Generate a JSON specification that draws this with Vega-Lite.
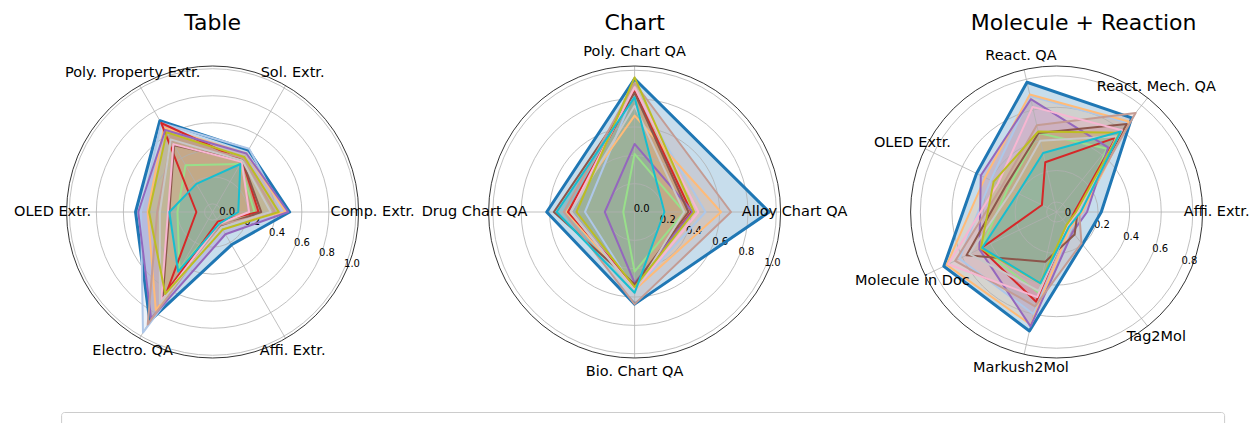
{
  "$schema": "https://vega.github.io/schema/vega-lite/v6.json",
  "autosize": {"type": "pad"},
  "padding": {"left": 13.6, "top": 11, "right": 0, "bottom": 0},
  "bounds": "flush",
  "config": {
    "view": {"stroke": null},
    "font": "DejaVu Sans",
    "concat": {"spacing": 130}
  },
  "datasets": {
    "axes": [
      {"panel": "Table", "axis": "Comp. Extr."}, {"panel": "Table", "axis": "Sol. Extr."}, {"panel": "Table", "axis": "Poly. Property Extr."}, {"panel": "Table", "axis": "OLED Extr."}, {"panel": "Table", "axis": "Electro. QA"}, {"panel": "Table", "axis": "Affi. Extr."},
      {"panel": "Chart", "axis": "Alloy Chart QA"}, {"panel": "Chart", "axis": "Poly. Chart QA"}, {"panel": "Chart", "axis": "Drug Chart QA"}, {"panel": "Chart", "axis": "Bio. Chart QA"},
      {"panel": "Molecule + Reaction", "axis": "Affi. Extr."}, {"panel": "Molecule + Reaction", "axis": "React. Mech. QA"}, {"panel": "Molecule + Reaction", "axis": "React. QA"}, {"panel": "Molecule + Reaction", "axis": "OLED Extr."}, {"panel": "Molecule + Reaction", "axis": "Molecule in Doc"}, {"panel": "Molecule + Reaction", "axis": "Markush2Mol"}, {"panel": "Molecule + Reaction", "axis": "Tag2Mol"}
    ],
    "rings": [
      {"panel": "Table", "r": 0}, {"panel": "Table", "r": 0.2}, {"panel": "Table", "r": 0.4}, {"panel": "Table", "r": 0.6}, {"panel": "Table", "r": 0.8}, {"panel": "Table", "r": 1.0},
      {"panel": "Chart", "r": 0}, {"panel": "Chart", "r": 0.2}, {"panel": "Chart", "r": 0.4}, {"panel": "Chart", "r": 0.6}, {"panel": "Chart", "r": 0.8}, {"panel": "Chart", "r": 1.0},
      {"panel": "Molecule + Reaction", "r": 0}, {"panel": "Molecule + Reaction", "r": 0.2}, {"panel": "Molecule + Reaction", "r": 0.4}, {"panel": "Molecule + Reaction", "r": 0.6}, {"panel": "Molecule + Reaction", "r": 0.8}
    ],
    "scores": [
      {"panel": "Table", "model": "Uni-SMART", "axis": "Comp. Extr.", "value": 0.51}, {"panel": "Table", "model": "Uni-SMART", "axis": "Sol. Extr.", "value": 0.47}, {"panel": "Table", "model": "Uni-SMART", "axis": "Poly. Property Extr.", "value": 0.72}, {"panel": "Table", "model": "Uni-SMART", "axis": "OLED Extr.", "value": 0.51}, {"panel": "Table", "model": "Uni-SMART", "axis": "Electro. QA", "value": 0.87}, {"panel": "Table", "model": "Uni-SMART", "axis": "Affi. Extr.", "value": 0.22},
      {"panel": "Table", "model": "GPT-4o", "axis": "Comp. Extr.", "value": 0.46}, {"panel": "Table", "model": "GPT-4o", "axis": "Sol. Extr.", "value": 0.48}, {"panel": "Table", "model": "GPT-4o", "axis": "Poly. Property Extr.", "value": 0.70}, {"panel": "Table", "model": "GPT-4o", "axis": "OLED Extr.", "value": 0.47}, {"panel": "Table", "model": "GPT-4o", "axis": "Electro. QA", "value": 0.97}, {"panel": "Table", "model": "GPT-4o", "axis": "Affi. Extr.", "value": 0.07},
      {"panel": "Table", "model": "GPT-4", "axis": "Comp. Extr.", "value": 0.48}, {"panel": "Table", "model": "GPT-4", "axis": "Sol. Extr.", "value": 0.44}, {"panel": "Table", "model": "GPT-4", "axis": "Poly. Property Extr.", "value": 0.66}, {"panel": "Table", "model": "GPT-4", "axis": "OLED Extr.", "value": 0.42}, {"panel": "Table", "model": "GPT-4", "axis": "Electro. QA", "value": 0.78}, {"panel": "Table", "model": "GPT-4", "axis": "Affi. Extr.", "value": 0.05},
      {"panel": "Table", "model": "GPT-3.5", "axis": "Comp. Extr.", "value": 0.25}, {"panel": "Table", "model": "GPT-3.5", "axis": "Sol. Extr.", "value": 0.35}, {"panel": "Table", "model": "GPT-3.5", "axis": "Poly. Property Extr.", "value": 0.34}, {"panel": "Table", "model": "GPT-3.5", "axis": "OLED Extr.", "value": 0.20}, {"panel": "Table", "model": "GPT-3.5", "axis": "Electro. QA", "value": 0.43}, {"panel": "Table", "model": "GPT-3.5", "axis": "Affi. Extr.", "value": 0.03},
      {"panel": "Table", "model": "Moonshot", "axis": "Comp. Extr.", "value": 0.28}, {"panel": "Table", "model": "Moonshot", "axis": "Sol. Extr.", "value": 0.38}, {"panel": "Table", "model": "Moonshot", "axis": "Poly. Property Extr.", "value": 0.70}, {"panel": "Table", "model": "Moonshot", "axis": "OLED Extr.", "value": 0.06}, {"panel": "Table", "model": "Moonshot", "axis": "Electro. QA", "value": 0.61}, {"panel": "Table", "model": "Moonshot", "axis": "Affi. Extr.", "value": 0.02},
      {"panel": "Table", "model": "Claude3", "axis": "Comp. Extr.", "value": 0.50}, {"panel": "Table", "model": "Claude3", "axis": "Sol. Extr.", "value": 0.44}, {"panel": "Table", "model": "Claude3", "axis": "Poly. Property Extr.", "value": 0.64}, {"panel": "Table", "model": "Claude3", "axis": "OLED Extr.", "value": 0.49}, {"panel": "Table", "model": "Claude3", "axis": "Electro. QA", "value": 0.85}, {"panel": "Table", "model": "Claude3", "axis": "Affi. Extr.", "value": 0.13},
      {"panel": "Table", "model": "Doubao", "axis": "Comp. Extr.", "value": 0.30}, {"panel": "Table", "model": "Doubao", "axis": "Sol. Extr.", "value": 0.38}, {"panel": "Table", "model": "Doubao", "axis": "Poly. Property Extr.", "value": 0.51}, {"panel": "Table", "model": "Doubao", "axis": "OLED Extr.", "value": 0.26}, {"panel": "Table", "model": "Doubao", "axis": "Electro. QA", "value": 0.68}, {"panel": "Table", "model": "Doubao", "axis": "Affi. Extr.", "value": 0.06},
      {"panel": "Table", "model": "Gemini", "axis": "Comp. Extr.", "value": 0.40}, {"panel": "Table", "model": "Gemini", "axis": "Sol. Extr.", "value": 0.40}, {"panel": "Table", "model": "Gemini", "axis": "Poly. Property Extr.", "value": 0.55}, {"panel": "Table", "model": "Gemini", "axis": "OLED Extr.", "value": 0.35}, {"panel": "Table", "model": "Gemini", "axis": "Electro. QA", "value": 0.90}, {"panel": "Table", "model": "Gemini", "axis": "Affi. Extr.", "value": 0.05},
      {"panel": "Table", "model": "Llama3", "axis": "Comp. Extr.", "value": 0.21}, {"panel": "Table", "model": "Llama3", "axis": "Sol. Extr.", "value": 0.37}, {"panel": "Table", "model": "Llama3", "axis": "Poly. Property Extr.", "value": 0.52}, {"panel": "Table", "model": "Llama3", "axis": "OLED Extr.", "value": 0.27}, {"panel": "Table", "model": "Llama3", "axis": "Electro. QA", "value": 0.70}, {"panel": "Table", "model": "Llama3", "axis": "Affi. Extr.", "value": 0.04},
      {"panel": "Table", "model": "DeepSeek", "axis": "Comp. Extr.", "value": 0.37}, {"panel": "Table", "model": "DeepSeek", "axis": "Sol. Extr.", "value": 0.38}, {"panel": "Table", "model": "DeepSeek", "axis": "Poly. Property Extr.", "value": 0.56}, {"panel": "Table", "model": "DeepSeek", "axis": "OLED Extr.", "value": 0.33}, {"panel": "Table", "model": "DeepSeek", "axis": "Electro. QA", "value": 0.72}, {"panel": "Table", "model": "DeepSeek", "axis": "Affi. Extr.", "value": 0.07},
      {"panel": "Table", "model": "Qwen2", "axis": "Comp. Extr.", "value": 0.43}, {"panel": "Table", "model": "Qwen2", "axis": "Sol. Extr.", "value": 0.41}, {"panel": "Table", "model": "Qwen2", "axis": "Poly. Property Extr.", "value": 0.62}, {"panel": "Table", "model": "Qwen2", "axis": "OLED Extr.", "value": 0.41}, {"panel": "Table", "model": "Qwen2", "axis": "Electro. QA", "value": 0.64}, {"panel": "Table", "model": "Qwen2", "axis": "Affi. Extr.", "value": 0.09},
      {"panel": "Table", "model": "Command R+", "axis": "Comp. Extr.", "value": 0.13}, {"panel": "Table", "model": "Command R+", "axis": "Sol. Extr.", "value": 0.35}, {"panel": "Table", "model": "Command R+", "axis": "Poly. Property Extr.", "value": 0.18}, {"panel": "Table", "model": "Command R+", "axis": "OLED Extr.", "value": 0.26}, {"panel": "Table", "model": "Command R+", "axis": "Electro. QA", "value": 0.45}, {"panel": "Table", "model": "Command R+", "axis": "Affi. Extr.", "value": 0.04},

      {"panel": "Chart", "model": "Uni-SMART", "axis": "Alloy Chart QA", "value": 0.95}, {"panel": "Chart", "model": "Uni-SMART", "axis": "Poly. Chart QA", "value": 0.94}, {"panel": "Chart", "model": "Uni-SMART", "axis": "Drug Chart QA", "value": 0.62}, {"panel": "Chart", "model": "Uni-SMART", "axis": "Bio. Chart QA", "value": 0.65},
      {"panel": "Chart", "model": "GPT-4o", "axis": "Alloy Chart QA", "value": 0.50}, {"panel": "Chart", "model": "GPT-4o", "axis": "Poly. Chart QA", "value": 0.85}, {"panel": "Chart", "model": "GPT-4o", "axis": "Drug Chart QA", "value": 0.35}, {"panel": "Chart", "model": "GPT-4o", "axis": "Bio. Chart QA", "value": 0.55},
      {"panel": "Chart", "model": "GPT-4", "axis": "Alloy Chart QA", "value": 0.61}, {"panel": "Chart", "model": "GPT-4", "axis": "Poly. Chart QA", "value": 0.68}, {"panel": "Chart", "model": "GPT-4", "axis": "Drug Chart QA", "value": 0.48}, {"panel": "Chart", "model": "GPT-4", "axis": "Bio. Chart QA", "value": 0.55},
      {"panel": "Chart", "model": "GPT-3.5", "axis": "Alloy Chart QA", "value": 0.35}, {"panel": "Chart", "model": "GPT-3.5", "axis": "Poly. Chart QA", "value": 0.41}, {"panel": "Chart", "model": "GPT-3.5", "axis": "Drug Chart QA", "value": 0.08}, {"panel": "Chart", "model": "GPT-3.5", "axis": "Bio. Chart QA", "value": 0.42},
      {"panel": "Chart", "model": "Moonshot", "axis": "Alloy Chart QA", "value": 0.40}, {"panel": "Chart", "model": "Moonshot", "axis": "Poly. Chart QA", "value": 0.85}, {"panel": "Chart", "model": "Moonshot", "axis": "Drug Chart QA", "value": 0.47}, {"panel": "Chart", "model": "Moonshot", "axis": "Bio. Chart QA", "value": 0.52},
      {"panel": "Chart", "model": "Claude3", "axis": "Alloy Chart QA", "value": 0.41}, {"panel": "Chart", "model": "Claude3", "axis": "Poly. Chart QA", "value": 0.48}, {"panel": "Chart", "model": "Claude3", "axis": "Drug Chart QA", "value": 0.21}, {"panel": "Chart", "model": "Claude3", "axis": "Bio. Chart QA", "value": 0.50},
      {"panel": "Chart", "model": "Doubao", "axis": "Alloy Chart QA", "value": 0.38}, {"panel": "Chart", "model": "Doubao", "axis": "Poly. Chart QA", "value": 0.84}, {"panel": "Chart", "model": "Doubao", "axis": "Drug Chart QA", "value": 0.57}, {"panel": "Chart", "model": "Doubao", "axis": "Bio. Chart QA", "value": 0.51},
      {"panel": "Chart", "model": "Gemini", "axis": "Alloy Chart QA", "value": 0.68}, {"panel": "Chart", "model": "Gemini", "axis": "Poly. Chart QA", "value": 0.91}, {"panel": "Chart", "model": "Gemini", "axis": "Drug Chart QA", "value": 0.50}, {"panel": "Chart", "model": "Gemini", "axis": "Bio. Chart QA", "value": 0.65},
      {"panel": "Chart", "model": "Llama3", "axis": "Alloy Chart QA", "value": 0.45}, {"panel": "Chart", "model": "Llama3", "axis": "Poly. Chart QA", "value": 0.88}, {"panel": "Chart", "model": "Llama3", "axis": "Drug Chart QA", "value": 0.45}, {"panel": "Chart", "model": "Llama3", "axis": "Bio. Chart QA", "value": 0.55},
      {"panel": "Chart", "model": "DeepSeek", "axis": "Alloy Chart QA", "value": 0.35}, {"panel": "Chart", "model": "DeepSeek", "axis": "Poly. Chart QA", "value": 0.75}, {"panel": "Chart", "model": "DeepSeek", "axis": "Drug Chart QA", "value": 0.45}, {"panel": "Chart", "model": "DeepSeek", "axis": "Bio. Chart QA", "value": 0.56},
      {"panel": "Chart", "model": "Qwen2", "axis": "Alloy Chart QA", "value": 0.42}, {"panel": "Chart", "model": "Qwen2", "axis": "Poly. Chart QA", "value": 0.95}, {"panel": "Chart", "model": "Qwen2", "axis": "Drug Chart QA", "value": 0.41}, {"panel": "Chart", "model": "Qwen2", "axis": "Bio. Chart QA", "value": 0.53},
      {"panel": "Chart", "model": "Command R+", "axis": "Alloy Chart QA", "value": 0.21}, {"panel": "Chart", "model": "Command R+", "axis": "Poly. Chart QA", "value": 0.81}, {"panel": "Chart", "model": "Command R+", "axis": "Drug Chart QA", "value": 0.55}, {"panel": "Chart", "model": "Command R+", "axis": "Bio. Chart QA", "value": 0.57},

      {"panel": "Molecule + Reaction", "model": "Uni-SMART", "axis": "Affi. Extr.", "value": 0.22}, {"panel": "Molecule + Reaction", "model": "Uni-SMART", "axis": "React. Mech. QA", "value": 0.70}, {"panel": "Molecule + Reaction", "model": "Uni-SMART", "axis": "React. QA", "value": 0.78}, {"panel": "Molecule + Reaction", "model": "Uni-SMART", "axis": "OLED Extr.", "value": 0.50}, {"panel": "Molecule + Reaction", "model": "Uni-SMART", "axis": "Molecule in Doc", "value": 0.73}, {"panel": "Molecule + Reaction", "model": "Uni-SMART", "axis": "Markush2Mol", "value": 0.71}, {"panel": "Molecule + Reaction", "model": "Uni-SMART", "axis": "Tag2Mol", "value": 0.20},
      {"panel": "Molecule + Reaction", "model": "GPT-4o", "axis": "Affi. Extr.", "value": 0.10}, {"panel": "Molecule + Reaction", "model": "GPT-4o", "axis": "React. Mech. QA", "value": 0.66}, {"panel": "Molecule + Reaction", "model": "GPT-4o", "axis": "React. QA", "value": 0.69}, {"panel": "Molecule + Reaction", "model": "GPT-4o", "axis": "OLED Extr.", "value": 0.40}, {"panel": "Molecule + Reaction", "model": "GPT-4o", "axis": "Molecule in Doc", "value": 0.62}, {"panel": "Molecule + Reaction", "model": "GPT-4o", "axis": "Markush2Mol", "value": 0.60}, {"panel": "Molecule + Reaction", "model": "GPT-4o", "axis": "Tag2Mol", "value": 0.08},
      {"panel": "Molecule + Reaction", "model": "GPT-4", "axis": "Affi. Extr.", "value": 0.10}, {"panel": "Molecule + Reaction", "model": "GPT-4", "axis": "React. Mech. QA", "value": 0.67}, {"panel": "Molecule + Reaction", "model": "GPT-4", "axis": "React. QA", "value": 0.70}, {"panel": "Molecule + Reaction", "model": "GPT-4", "axis": "OLED Extr.", "value": 0.44}, {"panel": "Molecule + Reaction", "model": "GPT-4", "axis": "Molecule in Doc", "value": 0.71}, {"panel": "Molecule + Reaction", "model": "GPT-4", "axis": "Markush2Mol", "value": 0.67}, {"panel": "Molecule + Reaction", "model": "GPT-4", "axis": "Tag2Mol", "value": 0.07},
      {"panel": "Molecule + Reaction", "model": "GPT-3.5", "axis": "Affi. Extr.", "value": 0.08}, {"panel": "Molecule + Reaction", "model": "GPT-3.5", "axis": "React. Mech. QA", "value": 0.45}, {"panel": "Molecule + Reaction", "model": "GPT-3.5", "axis": "React. QA", "value": 0.45}, {"panel": "Molecule + Reaction", "model": "GPT-3.5", "axis": "OLED Extr.", "value": 0.28}, {"panel": "Molecule + Reaction", "model": "GPT-3.5", "axis": "Molecule in Doc", "value": 0.47}, {"panel": "Molecule + Reaction", "model": "GPT-3.5", "axis": "Markush2Mol", "value": 0.46}, {"panel": "Molecule + Reaction", "model": "GPT-3.5", "axis": "Tag2Mol", "value": 0.05},
      {"panel": "Molecule + Reaction", "model": "Moonshot", "axis": "Affi. Extr.", "value": 0.05}, {"panel": "Molecule + Reaction", "model": "Moonshot", "axis": "React. Mech. QA", "value": 0.54}, {"panel": "Molecule + Reaction", "model": "Moonshot", "axis": "React. QA", "value": 0.26}, {"panel": "Molecule + Reaction", "model": "Moonshot", "axis": "OLED Extr.", "value": 0.04}, {"panel": "Molecule + Reaction", "model": "Moonshot", "axis": "Molecule in Doc", "value": 0.47}, {"panel": "Molecule + Reaction", "model": "Moonshot", "axis": "Markush2Mol", "value": 0.52}, {"panel": "Molecule + Reaction", "model": "Moonshot", "axis": "Tag2Mol", "value": 0.05},
      {"panel": "Molecule + Reaction", "model": "Claude3", "axis": "Affi. Extr.", "value": 0.13}, {"panel": "Molecule + Reaction", "model": "Claude3", "axis": "React. Mech. QA", "value": 0.46}, {"panel": "Molecule + Reaction", "model": "Claude3", "axis": "React. QA", "value": 0.67}, {"panel": "Molecule + Reaction", "model": "Claude3", "axis": "OLED Extr.", "value": 0.47}, {"panel": "Molecule + Reaction", "model": "Claude3", "axis": "Molecule in Doc", "value": 0.48}, {"panel": "Molecule + Reaction", "model": "Claude3", "axis": "Markush2Mol", "value": 0.68}, {"panel": "Molecule + Reaction", "model": "Claude3", "axis": "Tag2Mol", "value": 0.10},
      {"panel": "Molecule + Reaction", "model": "Doubao", "axis": "Affi. Extr.", "value": 0.07}, {"panel": "Molecule + Reaction", "model": "Doubao", "axis": "React. Mech. QA", "value": 0.65}, {"panel": "Molecule + Reaction", "model": "Doubao", "axis": "React. QA", "value": 0.45}, {"panel": "Molecule + Reaction", "model": "Doubao", "axis": "OLED Extr.", "value": 0.30}, {"panel": "Molecule + Reaction", "model": "Doubao", "axis": "Molecule in Doc", "value": 0.57}, {"panel": "Molecule + Reaction", "model": "Doubao", "axis": "Markush2Mol", "value": 0.26}, {"panel": "Molecule + Reaction", "model": "Doubao", "axis": "Tag2Mol", "value": 0.12},
      {"panel": "Molecule + Reaction", "model": "Gemini", "axis": "Affi. Extr.", "value": 0.08}, {"panel": "Molecule + Reaction", "model": "Gemini", "axis": "React. Mech. QA", "value": 0.74}, {"panel": "Molecule + Reaction", "model": "Gemini", "axis": "React. QA", "value": 0.50}, {"panel": "Molecule + Reaction", "model": "Gemini", "axis": "OLED Extr.", "value": 0.32}, {"panel": "Molecule + Reaction", "model": "Gemini", "axis": "Molecule in Doc", "value": 0.65}, {"panel": "Molecule + Reaction", "model": "Gemini", "axis": "Markush2Mol", "value": 0.55}, {"panel": "Molecule + Reaction", "model": "Gemini", "axis": "Tag2Mol", "value": 0.19},
      {"panel": "Molecule + Reaction", "model": "Llama3", "axis": "Affi. Extr.", "value": 0.07}, {"panel": "Molecule + Reaction", "model": "Llama3", "axis": "React. Mech. QA", "value": 0.60}, {"panel": "Molecule + Reaction", "model": "Llama3", "axis": "React. QA", "value": 0.62}, {"panel": "Molecule + Reaction", "model": "Llama3", "axis": "OLED Extr.", "value": 0.35}, {"panel": "Molecule + Reaction", "model": "Llama3", "axis": "Molecule in Doc", "value": 0.70}, {"panel": "Molecule + Reaction", "model": "Llama3", "axis": "Markush2Mol", "value": 0.49}, {"panel": "Molecule + Reaction", "model": "Llama3", "axis": "Tag2Mol", "value": 0.05},
      {"panel": "Molecule + Reaction", "model": "DeepSeek", "axis": "Affi. Extr.", "value": 0.08}, {"panel": "Molecule + Reaction", "model": "DeepSeek", "axis": "React. Mech. QA", "value": 0.55}, {"panel": "Molecule + Reaction", "model": "DeepSeek", "axis": "React. QA", "value": 0.40}, {"panel": "Molecule + Reaction", "model": "DeepSeek", "axis": "OLED Extr.", "value": 0.25}, {"panel": "Molecule + Reaction", "model": "DeepSeek", "axis": "Molecule in Doc", "value": 0.55}, {"panel": "Molecule + Reaction", "model": "DeepSeek", "axis": "Markush2Mol", "value": 0.45}, {"panel": "Molecule + Reaction", "model": "DeepSeek", "axis": "Tag2Mol", "value": 0.06},
      {"panel": "Molecule + Reaction", "model": "Qwen2", "axis": "Affi. Extr.", "value": 0.06}, {"panel": "Molecule + Reaction", "model": "Qwen2", "axis": "React. Mech. QA", "value": 0.58}, {"panel": "Molecule + Reaction", "model": "Qwen2", "axis": "React. QA", "value": 0.46}, {"panel": "Molecule + Reaction", "model": "Qwen2", "axis": "OLED Extr.", "value": 0.38}, {"panel": "Molecule + Reaction", "model": "Qwen2", "axis": "Molecule in Doc", "value": 0.47}, {"panel": "Molecule + Reaction", "model": "Qwen2", "axis": "Markush2Mol", "value": 0.40}, {"panel": "Molecule + Reaction", "model": "Qwen2", "axis": "Tag2Mol", "value": 0.04},
      {"panel": "Molecule + Reaction", "model": "Command R+", "axis": "Affi. Extr.", "value": 0.09}, {"panel": "Molecule + Reaction", "model": "Command R+", "axis": "React. Mech. QA", "value": 0.59}, {"panel": "Molecule + Reaction", "model": "Command R+", "axis": "React. QA", "value": 0.32}, {"panel": "Molecule + Reaction", "model": "Command R+", "axis": "OLED Extr.", "value": 0.21}, {"panel": "Molecule + Reaction", "model": "Command R+", "axis": "Molecule in Doc", "value": 0.46}, {"panel": "Molecule + Reaction", "model": "Command R+", "axis": "Markush2Mol", "value": 0.40}, {"panel": "Molecule + Reaction", "model": "Command R+", "axis": "Tag2Mol", "value": 0.06}
    ]
  },
  "resolve": {"scale": {"x": "independent", "y": "independent", "size": "independent", "color": "shared", "fill": "shared"}, "legend": {"color": "shared", "fill": "shared"}},
  "hconcat": [
    {
      "width": 292, "height": 292,
      "layer": [
        {
          "data": {"name": "scores"},
          "transform": [
            {"filter": "datum.panel === 'Table'"},
            {"calculate": "indexof(['Comp. Extr.','Sol. Extr.','Poly. Property Extr.','OLED Extr.','Electro. QA','Affi. Extr.'], datum.axis)", "as": "k"},
            {"calculate": "(datum.value + 0.06) / 1.08", "as": "u"},
            {"calculate": "datum.u * cos(2 * PI * datum.k / 6)", "as": "x"},
            {"calculate": "datum.u * sin(2 * PI * datum.k / 6)", "as": "y"}
          ],
          "mark": {"type": "line", "interpolate": "linear-closed", "strokeWidth": 0, "fillOpacity": 0.25},
          "encoding": {
            "x": {"field": "x", "type": "quantitative", "scale": {"domain": [-1, 1], "nice": false, "zero": false}, "axis": null},
            "y": {"field": "y", "type": "quantitative", "scale": {"domain": [-1, 1], "nice": false, "zero": false}, "axis": null},
            "order": {"field": "k", "type": "quantitative"},
            "fill": {"field": "model", "type": "nominal", "title": null, "scale": {"domain": ["Uni-SMART","GPT-4o","GPT-4","GPT-3.5","Moonshot","Claude3","Doubao","Gemini","Llama3","DeepSeek","Qwen2","Command R+"], "range": ["#1f77b4","#aec7e8","#ffbb78","#98df8a","#d62728","#9467bd","#8c564b","#c49c94","#f7b6d2","#c7c7c7","#bcbd22","#17becf"]},
              "legend": {"orient": "none", "legendX": -5.5, "legendY": 346, "direction": "horizontal", "title": null, "symbolType": "stroke", "symbolSize": 529, "symbolStrokeWidth": 2, "labelFontSize": 10, "labelFont": "DejaVu Sans", "labelColor": "black", "labelOffset": 7, "columnPadding": 20, "padding": 4, "strokeColor": "#cccccc", "fillColor": "white", "cornerRadius": 3, "labelLimit": 0}}
          }
        },
        {
          "data": {"name": "rings"},
          "transform": [
            {"filter": "datum.panel === 'Table'"},
            {"calculate": "(datum.r + 0.06) / 1.08", "as": "u"},
            {"calculate": "0", "as": "c"}
          ],
          "mark": {"type": "point", "filled": false, "stroke": "#b0b0b0", "strokeWidth": 0.8, "opacity": 1},
          "encoding": {
            "x": {"field": "c", "type": "quantitative", "scale": {"domain": [-1, 1], "nice": false, "zero": false}, "axis": null},
            "y": {"field": "c", "type": "quantitative", "scale": {"domain": [-1, 1], "nice": false, "zero": false}, "axis": null},
            "size": {"field": "u", "type": "quantitative", "scale": {"type": "pow", "exponent": 2, "domain": [0, 1], "range": [0, 85264], "zero": true}, "legend": null}
          }
        },
        {
          "data": {"name": "axes"},
          "transform": [
            {"filter": "datum.panel === 'Table'"},
            {"calculate": "indexof(['Comp. Extr.','Sol. Extr.','Poly. Property Extr.','OLED Extr.','Electro. QA','Affi. Extr.'], datum.axis)", "as": "k"},
            {"calculate": "0", "as": "c"},
            {"calculate": "cos(2 * PI * datum.k / 6)", "as": "ex"},
            {"calculate": "sin(2 * PI * datum.k / 6)", "as": "ey"}
          ],
          "mark": {"type": "rule", "stroke": "#b0b0b0", "strokeWidth": 0.8},
          "encoding": {
            "x": {"field": "c", "type": "quantitative", "scale": {"domain": [-1, 1], "nice": false, "zero": false}, "axis": null},
            "y": {"field": "c", "type": "quantitative", "scale": {"domain": [-1, 1], "nice": false, "zero": false}, "axis": null},
            "x2": {"field": "ex"},
            "y2": {"field": "ey"}
          }
        },
        {
          "data": {"name": "rings"},
          "transform": [{"filter": "datum.panel === 'Table'"}, {"aggregate": [{"op": "count", "as": "n"}], "groupby": ["panel"]}, {"calculate": "0", "as": "c"}, {"calculate": "0", "as": "tx"}, {"calculate": "1.295", "as": "ty"}],
          "layer": [
            {
              "mark": {"type": "point", "filled": false, "stroke": "black", "strokeWidth": 0.8, "opacity": 1, "size": 85264},
              "encoding": {
                "x": {"field": "c", "type": "quantitative", "scale": {"domain": [-1, 1], "nice": false, "zero": false}, "axis": null},
                "y": {"field": "c", "type": "quantitative", "scale": {"domain": [-1, 1], "nice": false, "zero": false}, "axis": null}
              }
            },
            {
              "mark": {"type": "text", "fontSize": 22, "font": "DejaVu Sans", "color": "black", "align": "center", "baseline": "middle"},
              "encoding": {
                "x": {"field": "tx", "type": "quantitative", "scale": {"domain": [-1, 1], "nice": false, "zero": false}, "axis": null},
                "y": {"field": "ty", "type": "quantitative", "scale": {"domain": [-1, 1], "nice": false, "zero": false}, "axis": null},
                "text": {"field": "panel"}
              }
            }
          ]
        },
        {
          "data": {"name": "rings"},
          "transform": [
            {"filter": "datum.panel === 'Table'"},
            {"calculate": "(datum.r + 0.06) / 1.08", "as": "u"},
            {"calculate": "datum.u * cos(-PI / 8)", "as": "lx"},
            {"calculate": "datum.u * sin(-PI / 8)", "as": "ly"},
            {"calculate": "format(datum.r, '.1f')", "as": "lab"}
          ],
          "mark": {"type": "text", "fontSize": 10, "font": "DejaVu Sans", "color": "black", "align": "center", "baseline": "middle", "dx": 7, "dy": -3},
          "encoding": {
            "x": {"field": "lx", "type": "quantitative", "scale": {"domain": [-1, 1], "nice": false, "zero": false}, "axis": null},
            "y": {"field": "ly", "type": "quantitative", "scale": {"domain": [-1, 1], "nice": false, "zero": false}, "axis": null},
            "text": {"field": "lab"}
          }
        },
        {
          "data": {"name": "scores"},
          "transform": [
            {"filter": "datum.panel === 'Table'"},
            {"calculate": "indexof(['Comp. Extr.','Sol. Extr.','Poly. Property Extr.','OLED Extr.','Electro. QA','Affi. Extr.'], datum.axis)", "as": "k"},
            {"calculate": "(datum.value + 0.06) / 1.08", "as": "u"},
            {"calculate": "datum.u * cos(2 * PI * datum.k / 6)", "as": "x"},
            {"calculate": "datum.u * sin(2 * PI * datum.k / 6)", "as": "y"}
          ],
          "mark": {"type": "line", "interpolate": "linear-closed", "strokeJoin": "round"},
          "encoding": {
            "x": {"field": "x", "type": "quantitative", "scale": {"domain": [-1, 1], "nice": false, "zero": false}, "axis": null},
            "y": {"field": "y", "type": "quantitative", "scale": {"domain": [-1, 1], "nice": false, "zero": false}, "axis": null},
            "order": {"field": "k", "type": "quantitative"},
            "strokeWidth": {"condition": {"test": "datum.model === 'Uni-SMART'", "value": 3}, "value": 2},
            "color": {"field": "model", "type": "nominal", "title": null, "scale": {"domain": ["Uni-SMART","GPT-4o","GPT-4","GPT-3.5","Moonshot","Claude3","Doubao","Gemini","Llama3","DeepSeek","Qwen2","Command R+"], "range": ["#1f77b4","#aec7e8","#ffbb78","#98df8a","#d62728","#9467bd","#8c564b","#c49c94","#f7b6d2","#c7c7c7","#bcbd22","#17becf"]},
              "legend": {"orient": "none", "legendX": -5.5, "legendY": 346, "direction": "horizontal", "title": null, "symbolType": "stroke", "symbolSize": 529, "symbolStrokeWidth": 2, "labelFontSize": 10, "labelFont": "DejaVu Sans", "labelColor": "black", "labelOffset": 7, "columnPadding": 20, "padding": 4, "strokeColor": "#cccccc", "fillColor": "white", "cornerRadius": 3, "labelLimit": 0}}
          }
        },
        {
          "data": {"name": "axes"},
          "transform": [
            {"filter": "datum.panel === 'Table'"},
            {"calculate": "indexof(['Comp. Extr.','Sol. Extr.','Poly. Property Extr.','OLED Extr.','Electro. QA','Affi. Extr.'], datum.axis)", "as": "k"},
            {"calculate": "1.096 * cos(2 * PI * datum.k / 6)", "as": "lx"},
            {"calculate": "1.096 * sin(2 * PI * datum.k / 6)", "as": "ly"}
          ],
          "mark": {"type": "text", "fontSize": 14.5, "font": "DejaVu Sans", "color": "black", "align": "center", "baseline": "middle"},
          "encoding": {
            "x": {"field": "lx", "type": "quantitative", "scale": {"domain": [-1, 1], "nice": false, "zero": false}, "axis": null},
            "y": {"field": "ly", "type": "quantitative", "scale": {"domain": [-1, 1], "nice": false, "zero": false}, "axis": null},
            "text": {"field": "axis"}
          }
        }
      ]
    },
    {
      "width": 292, "height": 292,
      "layer": [
        {
          "data": {"name": "scores"},
          "transform": [
            {"filter": "datum.panel === 'Chart'"},
            {"calculate": "indexof(['Alloy Chart QA','Poly. Chart QA','Drug Chart QA','Bio. Chart QA'], datum.axis)", "as": "k"},
            {"calculate": "datum.value / 1.03", "as": "u"},
            {"calculate": "datum.u * cos(2 * PI * datum.k / 4)", "as": "x"},
            {"calculate": "datum.u * sin(2 * PI * datum.k / 4)", "as": "y"}
          ],
          "mark": {"type": "line", "interpolate": "linear-closed", "strokeWidth": 0, "fillOpacity": 0.25},
          "encoding": {
            "x": {"field": "x", "type": "quantitative", "scale": {"domain": [-1, 1], "nice": false, "zero": false}, "axis": null},
            "y": {"field": "y", "type": "quantitative", "scale": {"domain": [-1, 1], "nice": false, "zero": false}, "axis": null},
            "order": {"field": "k", "type": "quantitative"},
            "fill": {"field": "model", "type": "nominal", "title": null, "scale": {"domain": ["Uni-SMART","GPT-4o","GPT-4","GPT-3.5","Moonshot","Claude3","Doubao","Gemini","Llama3","DeepSeek","Qwen2","Command R+"], "range": ["#1f77b4","#aec7e8","#ffbb78","#98df8a","#d62728","#9467bd","#8c564b","#c49c94","#f7b6d2","#c7c7c7","#bcbd22","#17becf"]},
              "legend": {"orient": "none", "legendX": -5.5, "legendY": 346, "direction": "horizontal", "title": null, "symbolType": "stroke", "symbolSize": 529, "symbolStrokeWidth": 2, "labelFontSize": 10, "labelFont": "DejaVu Sans", "labelColor": "black", "labelOffset": 7, "columnPadding": 20, "padding": 4, "strokeColor": "#cccccc", "fillColor": "white", "cornerRadius": 3, "labelLimit": 0}}
          }
        },
        {
          "data": {"name": "rings"},
          "transform": [
            {"filter": "datum.panel === 'Chart'"},
            {"calculate": "datum.r / 1.03", "as": "u"},
            {"calculate": "0", "as": "c"}
          ],
          "mark": {"type": "point", "filled": false, "stroke": "#b0b0b0", "strokeWidth": 0.8, "opacity": 1},
          "encoding": {
            "x": {"field": "c", "type": "quantitative", "scale": {"domain": [-1, 1], "nice": false, "zero": false}, "axis": null},
            "y": {"field": "c", "type": "quantitative", "scale": {"domain": [-1, 1], "nice": false, "zero": false}, "axis": null},
            "size": {"field": "u", "type": "quantitative", "scale": {"type": "pow", "exponent": 2, "domain": [0, 1], "range": [0, 85264], "zero": true}, "legend": null}
          }
        },
        {
          "data": {"name": "axes"},
          "transform": [
            {"filter": "datum.panel === 'Chart'"},
            {"calculate": "indexof(['Alloy Chart QA','Poly. Chart QA','Drug Chart QA','Bio. Chart QA'], datum.axis)", "as": "k"},
            {"calculate": "0", "as": "c"},
            {"calculate": "cos(2 * PI * datum.k / 4)", "as": "ex"},
            {"calculate": "sin(2 * PI * datum.k / 4)", "as": "ey"}
          ],
          "mark": {"type": "rule", "stroke": "#b0b0b0", "strokeWidth": 0.8},
          "encoding": {
            "x": {"field": "c", "type": "quantitative", "scale": {"domain": [-1, 1], "nice": false, "zero": false}, "axis": null},
            "y": {"field": "c", "type": "quantitative", "scale": {"domain": [-1, 1], "nice": false, "zero": false}, "axis": null},
            "x2": {"field": "ex"},
            "y2": {"field": "ey"}
          }
        },
        {
          "data": {"name": "rings"},
          "transform": [{"filter": "datum.panel === 'Chart'"}, {"aggregate": [{"op": "count", "as": "n"}], "groupby": ["panel"]}, {"calculate": "0", "as": "c"}, {"calculate": "0", "as": "tx"}, {"calculate": "1.295", "as": "ty"}],
          "layer": [
            {
              "mark": {"type": "point", "filled": false, "stroke": "black", "strokeWidth": 0.8, "opacity": 1, "size": 85264},
              "encoding": {
                "x": {"field": "c", "type": "quantitative", "scale": {"domain": [-1, 1], "nice": false, "zero": false}, "axis": null},
                "y": {"field": "c", "type": "quantitative", "scale": {"domain": [-1, 1], "nice": false, "zero": false}, "axis": null}
              }
            },
            {
              "mark": {"type": "text", "fontSize": 22, "font": "DejaVu Sans", "color": "black", "align": "center", "baseline": "middle"},
              "encoding": {
                "x": {"field": "tx", "type": "quantitative", "scale": {"domain": [-1, 1], "nice": false, "zero": false}, "axis": null},
                "y": {"field": "ty", "type": "quantitative", "scale": {"domain": [-1, 1], "nice": false, "zero": false}, "axis": null},
                "text": {"field": "panel"}
              }
            }
          ]
        },
        {
          "data": {"name": "rings"},
          "transform": [
            {"filter": "datum.panel === 'Chart'"},
            {"calculate": "datum.r / 1.03", "as": "u"},
            {"calculate": "datum.u * cos(-PI / 8)", "as": "lx"},
            {"calculate": "datum.u * sin(-PI / 8)", "as": "ly"},
            {"calculate": "format(datum.r, '.1f')", "as": "lab"}
          ],
          "mark": {"type": "text", "fontSize": 10, "font": "DejaVu Sans", "color": "black", "align": "center", "baseline": "middle", "dx": 7, "dy": -3},
          "encoding": {
            "x": {"field": "lx", "type": "quantitative", "scale": {"domain": [-1, 1], "nice": false, "zero": false}, "axis": null},
            "y": {"field": "ly", "type": "quantitative", "scale": {"domain": [-1, 1], "nice": false, "zero": false}, "axis": null},
            "text": {"field": "lab"}
          }
        },
        {
          "data": {"name": "scores"},
          "transform": [
            {"filter": "datum.panel === 'Chart'"},
            {"calculate": "indexof(['Alloy Chart QA','Poly. Chart QA','Drug Chart QA','Bio. Chart QA'], datum.axis)", "as": "k"},
            {"calculate": "datum.value / 1.03", "as": "u"},
            {"calculate": "datum.u * cos(2 * PI * datum.k / 4)", "as": "x"},
            {"calculate": "datum.u * sin(2 * PI * datum.k / 4)", "as": "y"}
          ],
          "mark": {"type": "line", "interpolate": "linear-closed", "strokeJoin": "round"},
          "encoding": {
            "x": {"field": "x", "type": "quantitative", "scale": {"domain": [-1, 1], "nice": false, "zero": false}, "axis": null},
            "y": {"field": "y", "type": "quantitative", "scale": {"domain": [-1, 1], "nice": false, "zero": false}, "axis": null},
            "order": {"field": "k", "type": "quantitative"},
            "strokeWidth": {"condition": {"test": "datum.model === 'Uni-SMART'", "value": 3}, "value": 2},
            "color": {"field": "model", "type": "nominal", "title": null, "scale": {"domain": ["Uni-SMART","GPT-4o","GPT-4","GPT-3.5","Moonshot","Claude3","Doubao","Gemini","Llama3","DeepSeek","Qwen2","Command R+"], "range": ["#1f77b4","#aec7e8","#ffbb78","#98df8a","#d62728","#9467bd","#8c564b","#c49c94","#f7b6d2","#c7c7c7","#bcbd22","#17becf"]},
              "legend": {"orient": "none", "legendX": -5.5, "legendY": 346, "direction": "horizontal", "title": null, "symbolType": "stroke", "symbolSize": 529, "symbolStrokeWidth": 2, "labelFontSize": 10, "labelFont": "DejaVu Sans", "labelColor": "black", "labelOffset": 7, "columnPadding": 20, "padding": 4, "strokeColor": "#cccccc", "fillColor": "white", "cornerRadius": 3, "labelLimit": 0}}
          }
        },
        {
          "data": {"name": "axes"},
          "transform": [
            {"filter": "datum.panel === 'Chart'"},
            {"calculate": "indexof(['Alloy Chart QA','Poly. Chart QA','Drug Chart QA','Bio. Chart QA'], datum.axis)", "as": "k"},
            {"calculate": "1.096 * cos(2 * PI * datum.k / 4)", "as": "lx"},
            {"calculate": "1.096 * sin(2 * PI * datum.k / 4)", "as": "ly"}
          ],
          "mark": {"type": "text", "fontSize": 14.5, "font": "DejaVu Sans", "color": "black", "align": "center", "baseline": "middle"},
          "encoding": {
            "x": {"field": "lx", "type": "quantitative", "scale": {"domain": [-1, 1], "nice": false, "zero": false}, "axis": null},
            "y": {"field": "ly", "type": "quantitative", "scale": {"domain": [-1, 1], "nice": false, "zero": false}, "axis": null},
            "text": {"field": "axis"}
          }
        }
      ]
    },
    {
      "width": 292, "height": 292,
      "layer": [
        {
          "data": {"name": "scores"},
          "transform": [
            {"filter": "datum.panel === 'Molecule + Reaction'"},
            {"calculate": "indexof(['Affi. Extr.','React. Mech. QA','React. QA','OLED Extr.','Molecule in Doc','Markush2Mol','Tag2Mol'], datum.axis)", "as": "k"},
            {"calculate": "(datum.value + 0.063) / 0.925", "as": "u"},
            {"calculate": "datum.u * cos(2 * PI * datum.k / 7)", "as": "x"},
            {"calculate": "datum.u * sin(2 * PI * datum.k / 7)", "as": "y"}
          ],
          "mark": {"type": "line", "interpolate": "linear-closed", "strokeWidth": 0, "fillOpacity": 0.25},
          "encoding": {
            "x": {"field": "x", "type": "quantitative", "scale": {"domain": [-1, 1], "nice": false, "zero": false}, "axis": null},
            "y": {"field": "y", "type": "quantitative", "scale": {"domain": [-1, 1], "nice": false, "zero": false}, "axis": null},
            "order": {"field": "k", "type": "quantitative"},
            "fill": {"field": "model", "type": "nominal", "title": null, "scale": {"domain": ["Uni-SMART","GPT-4o","GPT-4","GPT-3.5","Moonshot","Claude3","Doubao","Gemini","Llama3","DeepSeek","Qwen2","Command R+"], "range": ["#1f77b4","#aec7e8","#ffbb78","#98df8a","#d62728","#9467bd","#8c564b","#c49c94","#f7b6d2","#c7c7c7","#bcbd22","#17becf"]},
              "legend": {"orient": "none", "legendX": -5.5, "legendY": 346, "direction": "horizontal", "title": null, "symbolType": "stroke", "symbolSize": 529, "symbolStrokeWidth": 2, "labelFontSize": 10, "labelFont": "DejaVu Sans", "labelColor": "black", "labelOffset": 7, "columnPadding": 20, "padding": 4, "strokeColor": "#cccccc", "fillColor": "white", "cornerRadius": 3, "labelLimit": 0}}
          }
        },
        {
          "data": {"name": "rings"},
          "transform": [
            {"filter": "datum.panel === 'Molecule + Reaction'"},
            {"calculate": "(datum.r + 0.063) / 0.925", "as": "u"},
            {"calculate": "0", "as": "c"}
          ],
          "mark": {"type": "point", "filled": false, "stroke": "#b0b0b0", "strokeWidth": 0.8, "opacity": 1},
          "encoding": {
            "x": {"field": "c", "type": "quantitative", "scale": {"domain": [-1, 1], "nice": false, "zero": false}, "axis": null},
            "y": {"field": "c", "type": "quantitative", "scale": {"domain": [-1, 1], "nice": false, "zero": false}, "axis": null},
            "size": {"field": "u", "type": "quantitative", "scale": {"type": "pow", "exponent": 2, "domain": [0, 1], "range": [0, 85264], "zero": true}, "legend": null}
          }
        },
        {
          "data": {"name": "axes"},
          "transform": [
            {"filter": "datum.panel === 'Molecule + Reaction'"},
            {"calculate": "indexof(['Affi. Extr.','React. Mech. QA','React. QA','OLED Extr.','Molecule in Doc','Markush2Mol','Tag2Mol'], datum.axis)", "as": "k"},
            {"calculate": "0", "as": "c"},
            {"calculate": "cos(2 * PI * datum.k / 7)", "as": "ex"},
            {"calculate": "sin(2 * PI * datum.k / 7)", "as": "ey"}
          ],
          "mark": {"type": "rule", "stroke": "#b0b0b0", "strokeWidth": 0.8},
          "encoding": {
            "x": {"field": "c", "type": "quantitative", "scale": {"domain": [-1, 1], "nice": false, "zero": false}, "axis": null},
            "y": {"field": "c", "type": "quantitative", "scale": {"domain": [-1, 1], "nice": false, "zero": false}, "axis": null},
            "x2": {"field": "ex"},
            "y2": {"field": "ey"}
          }
        },
        {
          "data": {"name": "rings"},
          "transform": [{"filter": "datum.panel === 'Molecule + Reaction'"}, {"aggregate": [{"op": "count", "as": "n"}], "groupby": ["panel"]}, {"calculate": "0", "as": "c"}, {"calculate": "0.185", "as": "tx"}, {"calculate": "1.295", "as": "ty"}],
          "layer": [
            {
              "mark": {"type": "point", "filled": false, "stroke": "black", "strokeWidth": 0.8, "opacity": 1, "size": 85264},
              "encoding": {
                "x": {"field": "c", "type": "quantitative", "scale": {"domain": [-1, 1], "nice": false, "zero": false}, "axis": null},
                "y": {"field": "c", "type": "quantitative", "scale": {"domain": [-1, 1], "nice": false, "zero": false}, "axis": null}
              }
            },
            {
              "mark": {"type": "text", "fontSize": 22, "font": "DejaVu Sans", "color": "black", "align": "center", "baseline": "middle"},
              "encoding": {
                "x": {"field": "tx", "type": "quantitative", "scale": {"domain": [-1, 1], "nice": false, "zero": false}, "axis": null},
                "y": {"field": "ty", "type": "quantitative", "scale": {"domain": [-1, 1], "nice": false, "zero": false}, "axis": null},
                "text": {"field": "panel"}
              }
            }
          ]
        },
        {
          "data": {"name": "rings"},
          "transform": [
            {"filter": "datum.panel === 'Molecule + Reaction'"},
            {"calculate": "(datum.r + 0.063) / 0.925", "as": "u"},
            {"calculate": "datum.u * cos(-PI / 8)", "as": "lx"},
            {"calculate": "datum.u * sin(-PI / 8)", "as": "ly"},
            {"calculate": "format(datum.r, '.1f')", "as": "lab"}
          ],
          "mark": {"type": "text", "fontSize": 10, "font": "DejaVu Sans", "color": "black", "align": "center", "baseline": "middle", "dx": 7, "dy": -3},
          "encoding": {
            "x": {"field": "lx", "type": "quantitative", "scale": {"domain": [-1, 1], "nice": false, "zero": false}, "axis": null},
            "y": {"field": "ly", "type": "quantitative", "scale": {"domain": [-1, 1], "nice": false, "zero": false}, "axis": null},
            "text": {"field": "lab"}
          }
        },
        {
          "data": {"name": "scores"},
          "transform": [
            {"filter": "datum.panel === 'Molecule + Reaction'"},
            {"calculate": "indexof(['Affi. Extr.','React. Mech. QA','React. QA','OLED Extr.','Molecule in Doc','Markush2Mol','Tag2Mol'], datum.axis)", "as": "k"},
            {"calculate": "(datum.value + 0.063) / 0.925", "as": "u"},
            {"calculate": "datum.u * cos(2 * PI * datum.k / 7)", "as": "x"},
            {"calculate": "datum.u * sin(2 * PI * datum.k / 7)", "as": "y"}
          ],
          "mark": {"type": "line", "interpolate": "linear-closed", "strokeJoin": "round"},
          "encoding": {
            "x": {"field": "x", "type": "quantitative", "scale": {"domain": [-1, 1], "nice": false, "zero": false}, "axis": null},
            "y": {"field": "y", "type": "quantitative", "scale": {"domain": [-1, 1], "nice": false, "zero": false}, "axis": null},
            "order": {"field": "k", "type": "quantitative"},
            "strokeWidth": {"condition": {"test": "datum.model === 'Uni-SMART'", "value": 3}, "value": 2},
            "color": {"field": "model", "type": "nominal", "title": null, "scale": {"domain": ["Uni-SMART","GPT-4o","GPT-4","GPT-3.5","Moonshot","Claude3","Doubao","Gemini","Llama3","DeepSeek","Qwen2","Command R+"], "range": ["#1f77b4","#aec7e8","#ffbb78","#98df8a","#d62728","#9467bd","#8c564b","#c49c94","#f7b6d2","#c7c7c7","#bcbd22","#17becf"]},
              "legend": {"orient": "none", "legendX": -5.5, "legendY": 346, "direction": "horizontal", "title": null, "symbolType": "stroke", "symbolSize": 529, "symbolStrokeWidth": 2, "labelFontSize": 10, "labelFont": "DejaVu Sans", "labelColor": "black", "labelOffset": 7, "columnPadding": 20, "padding": 4, "strokeColor": "#cccccc", "fillColor": "white", "cornerRadius": 3, "labelLimit": 0}}
          }
        },
        {
          "data": {"name": "axes"},
          "transform": [
            {"filter": "datum.panel === 'Molecule + Reaction'"},
            {"calculate": "indexof(['Affi. Extr.','React. Mech. QA','React. QA','OLED Extr.','Molecule in Doc','Markush2Mol','Tag2Mol'], datum.axis)", "as": "k"},
            {"calculate": "1.096 * cos(2 * PI * datum.k / 7)", "as": "lx"},
            {"calculate": "1.096 * sin(2 * PI * datum.k / 7)", "as": "ly"}
          ],
          "mark": {"type": "text", "fontSize": 14.5, "font": "DejaVu Sans", "color": "black", "align": "center", "baseline": "middle"},
          "encoding": {
            "x": {"field": "lx", "type": "quantitative", "scale": {"domain": [-1, 1], "nice": false, "zero": false}, "axis": null},
            "y": {"field": "ly", "type": "quantitative", "scale": {"domain": [-1, 1], "nice": false, "zero": false}, "axis": null},
            "text": {"field": "axis"}
          }
        }
      ]
    }
  ]
}
